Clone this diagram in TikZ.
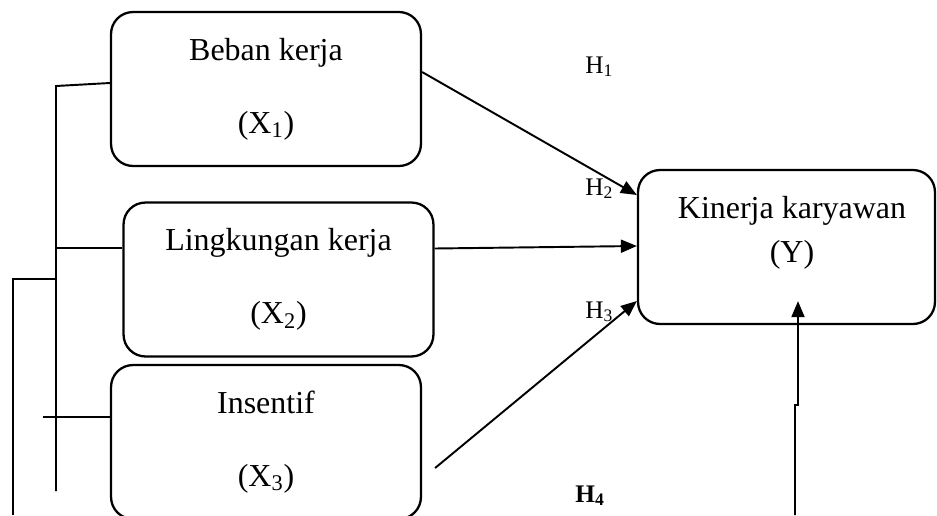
\documentclass[tikz,border=0pt]{standalone}
\usepackage{fontspec}
\setmainfont{Liberation Serif}
\usetikzlibrary{arrows.meta,calc,positioning}

\begin{document}
\begin{tikzpicture}[>={Triangle[length=0.32cm,width=0.26cm]}, x=0.02cm, y=-0.02cm,
  varbox/.style={draw, line width=1.3pt, rounded corners=0.44cm, minimum width=6.2cm, minimum height=3.08cm,
    align=center, font=\fontsize{18.2}{41.5}\selectfont},
  hyp/.style={anchor=base west, inner sep=0pt, font=\fontsize{14.4}{17}\selectfont},
  link/.style={line width=1.1pt}]
  \useasboundingbox (0,0) rectangle (937,515);

  % Variables
  \node[varbox] (x1) at (266,89) {Beban kerja\\(X\textsubscript{1})};
  \node[varbox] (x2) at (278.5,279.5) {Lingkungan kerja\\(X\textsubscript{2})};
  \node[varbox] (x3) at (266,442) {Insentif\\(X\textsubscript{3})};
  \node[varbox, minimum width=5.94cm] (y) at (786.5,247) {};
  \node[align=center, font=\fontsize{18.2}{25}\selectfont] (ytext) at (792,233) {Kinerja karyawan\\(Y)};

  % Hypotheses
  \node[hyp] (h1) at (585,73) {H\textsubscript{1}};
  \node[hyp] (h2) at (585,195) {H\textsubscript{2}};
  \node[hyp] (h3) at (585,318) {H\textsubscript{3}};
  \node[hyp] (h4) at (575,502) {\textbf{H\textsubscript{4}}};

  % Partial effects
  \draw[link,->] ($(x1.east)+(0,-17)$) -- ($(y.west)+(0,-52)$);
  \draw[link,->] ($(x2.east)+(0,-31)$) -- ($(y.west)+(0,-1)$);
  \draw[link,->] ($(x3.east)+(13,26)$) -- ($(y.west)+(0,54)$);

  % Joint effect
  \coordinate (ybot) at (795,515);
  \draw[link,->] (ybot) -- ++(0,-110) -- ++(3,0) -- ($(y.south)+(11.5,-24)$);

  % Bracket on the left
  \coordinate (spinetop) at (56,86);
  \coordinate (spinebot) at (56,491);
  \coordinate (outerbot) at (13,515);
  \draw[link] ($(x1.west)+(0,-6)$) -- (spinetop) -- (spinebot);
  \draw[link] ($(x2.west)+(0,-31.5)$) -- ++(-67,0);
  \draw[link] ($(x3.west)+(0,-25)$) -- ++(-67,0);
  \draw[link] (outerbot) -- (13,279) -- (56,279);
\end{tikzpicture}
\end{document}
